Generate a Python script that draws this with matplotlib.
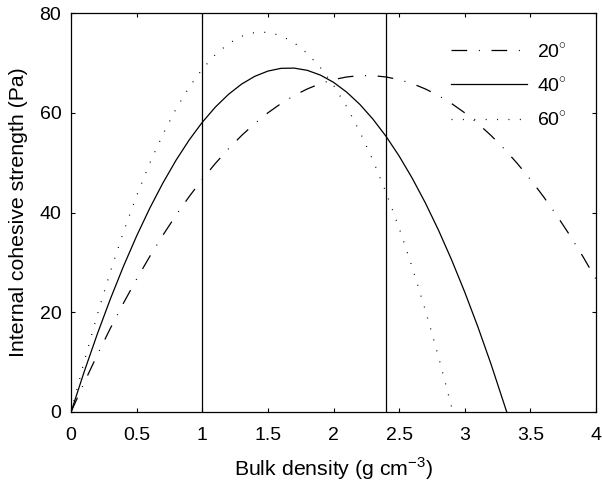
import numpy as np
import matplotlib
matplotlib.use('Agg')
import matplotlib.pyplot as plt

plt.rcParams['font.family'] = ['Liberation Sans', 'DejaVu Sans']
plt.rcParams['mathtext.fontset'] = 'custom'
plt.rcParams['mathtext.rm'] = 'Liberation Sans'
plt.rcParams['lines.scale_dashes'] = False

# values
x20 = [0, 0.1, 0.2, 0.3, 0.4, 0.5, 0.6, 0.7, 0.8, 0.9, 1.0, 1.1, 1.2, 1.3, 1.4, 1.5, 1.6, 1.7, 1.8, 1.9, 2.0,
       2.1, 2.2, 2.3, 2.4, 2.5, 2.6, 2.7, 2.8, 2.9, 3.0, 3.1, 3.2, 3.3, 3.4, 3.5, 3.6, 3.7, 3.8, 3.9, 4.0]
y20 = [0, 5.87, 11.46, 16.80, 21.86, 26.66, 31.19, 35.46, 39.46, 43.19, 46.66, 49.85, 52.79, 55.45, 57.85,
       59.99, 61.85, 63.45, 64.78, 65.85, 66.65, 67.18, 67.45, 67.45, 67.18, 66.65, 65.85, 64.78, 63.45,
       61.85, 59.99, 57.85, 55.45, 52.79, 49.85, 46.66, 43.19, 39.46, 35.46, 31.19, 26.66]

x40 = [0, 0.1, 0.2, 0.3, 0.4, 0.5, 0.6, 0.7, 0.8, 0.9, 1.0, 1.1, 1.2, 1.3, 1.4, 1.5, 1.6, 1.7, 1.8, 1.9, 2.0,
       2.1, 2.2, 2.3, 2.4, 2.5, 2.6, 2.7, 2.8, 2.9, 3.0, 3.1, 3.2, 3.32]
y40 = [0, 8.06, 15.62, 22.69, 29.25, 35.31, 40.87, 45.92, 50.48, 54.54, 58.09, 61.15, 63.70, 65.76, 67.31,
       68.36, 68.91, 68.96, 68.51, 67.56, 66.11, 64.15, 61.70, 58.74, 55.29, 51.33, 46.87, 41.92, 36.46,
       30.50, 24.04, 17.08, 9.62, 0]

x60 = [0, 0.1, 0.2, 0.3, 0.4, 0.5, 0.6, 0.7, 0.8, 0.9, 1.0, 1.1, 1.2, 1.3, 1.4, 1.5, 1.6, 1.7, 1.8, 1.9, 2.0,
       2.1, 2.2, 2.3, 2.4, 2.5, 2.6, 2.7, 2.8, 2.91]
y60 = [0, 10.12, 19.51, 28.19, 36.14, 43.38, 49.90, 55.69, 60.77, 65.12, 68.76, 71.68, 73.87, 75.35, 76.10,
       76.14, 75.46, 74.05, 71.93, 69.08, 65.52, 61.24, 56.23, 50.51, 44.06, 36.90, 29.02, 20.41, 11.09, 0]

vlines = [1.0, 2.4]

fig = plt.figure(figsize=(6.02, 4.83), dpi=100)
ax = fig.add_axes([0.118, 0.147, 0.872, 0.826])

lw = 0.9
ax.plot(x20, y20, color='k', lw=lw, linestyle=(0, (11.3, 8.4, 0.7, 8.4)), label='20$^{\\circ}$')
ax.plot(x40, y40, color='k', lw=lw, linestyle='-', label='40$^{\\circ}$')
ax.plot(x60, y60, color='k', lw=lw, linestyle=(0, (0.7, 7.5)), label='60$^{\\circ}$')
for v in vlines:
    ax.axvline(v, color='k', lw=lw)

ax.set_xlim(0, 4)
ax.set_ylim(0, 80)
ax.set_xticks(np.arange(0, 4.01, 0.5))
ax.set_xticklabels(['0', '0.5', '1', '1.5', '2', '2.5', '3', '3.5', '4'])
ax.set_yticks([0, 20, 40, 60, 80])
ax.tick_params(direction='in', top=True, right=True, length=2.6, width=0.8, labelsize=14)
ax.tick_params(axis='x', pad=11)
ax.tick_params(axis='y', pad=7)
for s in ax.spines.values():
    s.set_linewidth(0.9)

ax.set_xlabel('Bulk density (g cm$^{-3}$)', fontsize=15.3, labelpad=8)
ax.set_ylabel('Internal cohesive strength (Pa)', fontsize=15.3, labelpad=8)

leg = ax.legend(loc='upper right', frameon=False, fontsize=14, handlelength=3.9,
                handletextpad=0.5, labelspacing=0.78, borderaxespad=1.1)

fig.savefig('out.png', dpi=100)
